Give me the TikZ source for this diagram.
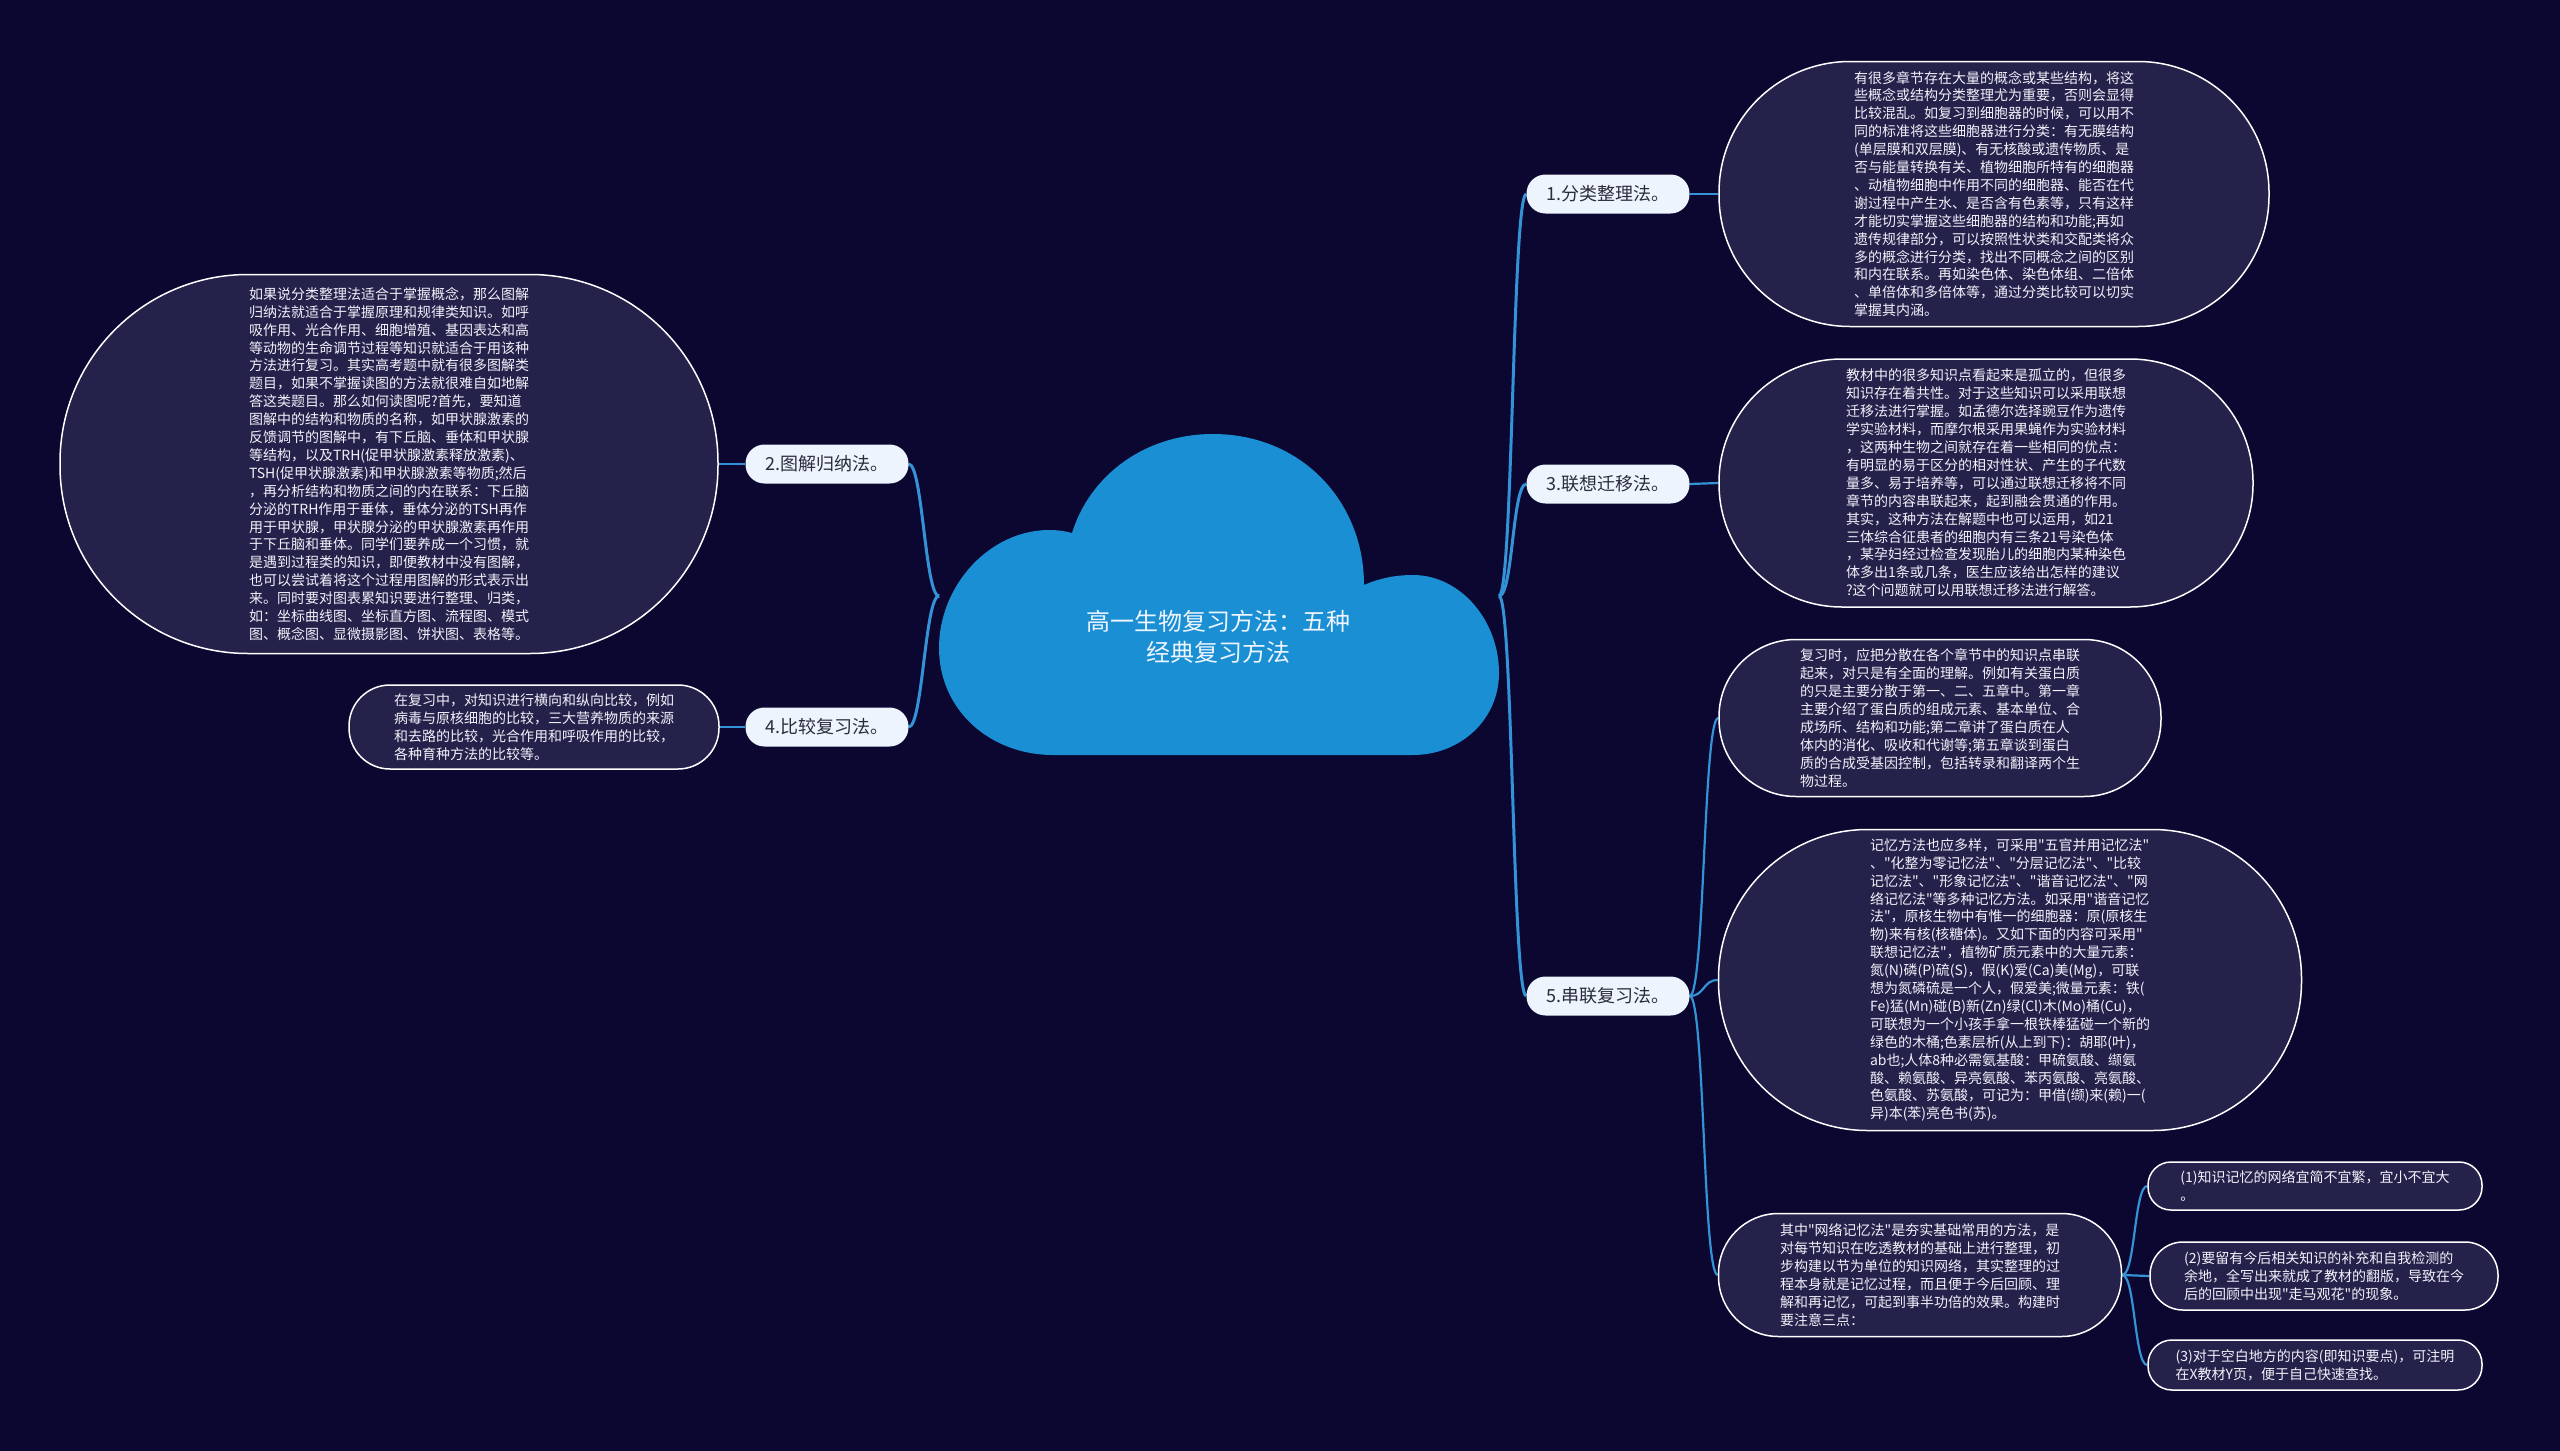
\documentclass[tikz,border=0pt]{standalone}
\usepackage{fontspec}
\setmainfont{Noto Sans CJK SC}[Ligatures=TeXOff]
\usetikzlibrary{calc}
\definecolor{bg}{HTML}{0B0730}
\definecolor{bubfill}{HTML}{24214B}
\definecolor{bubtext}{HTML}{F2F2FA}
\definecolor{pillfill}{HTML}{EDF4FE}
\definecolor{pilltext}{HTML}{2B2B3B}
\definecolor{cloudfill}{HTML}{1A8FD4}
\definecolor{cloudtext}{HTML}{EEF5FF}
\definecolor{linecol}{HTML}{3492D6}
\pgfdeclarelayer{background}
\pgfsetlayers{background,main}
\tikzset{
  bub/.style n args={3}{draw=white, line width=1.5pt, fill=bubfill, text=bubtext,
    font=\fontsize{14}{17.9}\selectfont, align=left, inner sep=0pt,
    minimum width=#1, minimum height=#2, rounded corners=#3},
  pill/.style={fill=pillfill, text=pilltext, font=\fontsize{18}{20}\selectfont,
    minimum width=163, minimum height=39, rounded corners=19, inner sep=0pt},
  mainline/.style={draw=linecol, line width=3pt},
  subline/.style={draw=linecol, line width=2.2pt},
}
\begin{document}
\begin{tikzpicture}[x=1pt,y=-1pt]
\useasboundingbox (0,0) rectangle (2560,1451);
\begin{pgfonlayer}{background}
\fill[bg] (0,0) rectangle (2560,1451);
\end{pgfonlayer}

% cloud
\fill[cloudfill] (1053,755) .. controls (990,755) and (939,710) .. (939,648)
  .. controls (939,585) and (990,530) .. (1049,530)
  .. controls (1057,530) and (1065,531) .. (1072,533)
  .. controls (1090,475) and (1145,434) .. (1213,434)
  .. controls (1300,434) and (1364,500) .. (1364,585)
  .. controls (1380,578) and (1396,575) .. (1413,575)
  .. controls (1460,575) and (1499,620) .. (1499,673)
  .. controls (1499,720) and (1460,755) .. (1413,755)
  -- cycle;
\node[text=cloudtext, font=\fontsize{24}{31}\selectfont, align=center] (root) at (1218,637) {高一生物复习方法：五种\\经典复习方法};
\coordinate (rootL) at (939,596);
\coordinate (rootR) at (1499,596);

% branch pills
\node[pill] (b1) at (1608,194) {1.分类整理法。};
\node[pill] (b3) at (1608,484) {3.联想迁移法。};
\node[pill] (b5) at (1608,996) {5.串联复习法。};
\node[pill] (b2) at (827,464) {2.图解归纳法。};
\node[pill] (b4) at (827,727) {4.比较复习法。};

% bubbles
\node[bub={550}{265}{131}] (e1) at (1994,194) {有很多章节存在大量的概念或某些结构，将这\\
些概念或结构分类整理尤为重要，否则会显得\\
比较混乱。如复习到细胞器的时候，可以用不\\
同的标准将这些细胞器进行分类：有无膜结构\\
(单层膜和双层膜)、有无核酸或遗传物质、是\\
否与能量转换有关、植物细胞所特有的细胞器\\
、动植物细胞中作用不同的细胞器、能否在代\\
谢过程中产生水、是否含有色素等，只有这样\\
才能切实掌握这些细胞器的结构和功能;再如\\
遗传规律部分，可以按照性状类和交配类将众\\
多的概念进行分类，找出不同概念之间的区别\\
和内在联系。再如染色体、染色体组、二倍体\\
、单倍体和多倍体等，通过分类比较可以切实\\
掌握其内涵。};

\node[bub={534}{248}{123}] (e3) at (1986,483) {教材中的很多知识点看起来是孤立的，但很多\\
知识存在着共性。对于这些知识可以采用联想\\
迁移法进行掌握。如孟德尔选择豌豆作为遗传\\
学实验材料，而摩尔根采用果蝇作为实验材料\\
，这两种生物之间就存在着一些相同的优点：\\
有明显的易于区分的相对性状、产生的子代数\\
量多、易于培养等，可以通过联想迁移将不同\\
章节的内容串联起来，起到融会贯通的作用。\\
其实，这种方法在解题中也可以运用，如21\\
三体综合征患者的细胞内有三条21号染色体\\
，某孕妇经过检查发现胎儿的细胞内某种染色\\
体多出1条或几条，医生应该给出怎样的建议\\
?这个问题就可以用联想迁移法进行解答。};

\node[bub={442}{157}{77}] (e5a) at (1940,718) {复习时，应把分散在各个章节中的知识点串联\\
起来，对只是有全面的理解。例如有关蛋白质\\
的只是主要分散于第一、二、五章中。第一章\\
主要介绍了蛋白质的组成元素、基本单位、合\\
成场所、结构和功能;第二章讲了蛋白质在人\\
体内的消化、吸收和代谢等;第五章谈到蛋白\\
质的合成受基因控制，包括转录和翻译两个生\\
物过程。};

\node[bub={583}{301}{149}] (e5b) at (2010,980) {记忆方法也应多样，可采用"五官并用记忆法"\\
、"化整为零记忆法"、"分层记忆法"、"比较\\
记忆法"、"形象记忆法"、"谐音记忆法"、"网\\
络记忆法"等多种记忆方法。如采用"谐音记忆\\
法"，原核生物中有惟一的细胞器：原(原核生\\
物)来有核(核糖体)。又如下面的内容可采用"\\
联想记忆法"，植物矿质元素中的大量元素：\\
氮(N)磷(P)硫(S)，假(K)爱(Ca)美(Mg)，可联\\
想为氮磷硫是一个人，假爱美;微量元素：铁(\\
Fe)猛(Mn)碰(B)新(Zn)绿(Cl)木(Mo)桶(Cu)，\\
可联想为一个小孩手拿一根铁棒猛碰一个新的\\
绿色的木桶;色素层析(从上到下)：胡耶(叶)，\\
ab也;人体8种必需氨基酸：甲硫氨酸、缬氨\\
酸、赖氨酸、异亮氨酸、苯丙氨酸、亮氨酸、\\
色氨酸、苏氨酸，可记为：甲借(缬)来(赖)一(\\
异)本(苯)亮色书(苏)。};

\node[bub={403}{123}{60}] (e5c) at (1920,1275) {其中"网络记忆法"是夯实基础常用的方法，是\\
对每节知识在吃透教材的基础上进行整理，初\\
步构建以节为单位的知识网络，其实整理的过\\
程本身就是记忆过程，而且便于今后回顾、理\\
解和再记忆，可起到事半功倍的效果。构建时\\
要注意三点：};

\node[bub={334}{48}{23}] (l1) at (2315,1186) {(1)知识记忆的网络宜简不宜繁，宜小不宜大\\。};
\node[bub={348}{68}{33}] (l2) at (2324,1276) {(2)要留有今后相关知识的补充和自我检测的\\
余地，全写出来就成了教材的翻版，导致在今\\
后的回顾中出现"走马观花"的现象。};
\node[bub={334}{50}{24}] (l3) at (2315,1365) {(3)对于空白地方的内容(即知识要点)，可注明\\
在X教材Y页，便于自己快速查找。};

\node[bub={658}{379}{188}] (e2) at (389,464) {如果说分类整理法适合于掌握概念，那么图解\\
归纳法就适合于掌握原理和规律类知识。如呼\\
吸作用、光合作用、细胞增殖、基因表达和高\\
等动物的生命调节过程等知识就适合于用该种\\
方法进行复习。其实高考题中就有很多图解类\\
题目，如果不掌握读图的方法就很难自如地解\\
答这类题目。那么如何读图呢?首先，要知道\\
图解中的结构和物质的名称，如甲状腺激素的\\
反馈调节的图解中，有下丘脑、垂体和甲状腺\\
等结构，以及TRH(促甲状腺激素释放激素)、\\
TSH(促甲状腺激素)和甲状腺激素等物质;然后\\
，再分析结构和物质之间的内在联系：下丘脑\\
分泌的TRH作用于垂体，垂体分泌的TSH再作\\
用于甲状腺，甲状腺分泌的甲状腺激素再作用\\
于下丘脑和垂体。同学们要养成一个习惯，就\\
是遇到过程类的知识，即便教材中没有图解，\\
也可以尝试着将这个过程用图解的形式表示出\\
来。同时要对图表累知识要进行整理、归类，\\
如：坐标曲线图、坐标直方图、流程图、模式\\
图、概念图、显微摄影图、饼状图、表格等。};

\node[bub={370}{84}{41}] (e4) at (534,727) {在复习中，对知识进行横向和纵向比较，例如\\
病毒与原核细胞的比较，三大营养物质的来源\\
和去路的比较，光合作用和呼吸作用的比较，\\
各种育种方法的比较等。};

% connectors
\begin{pgfonlayer}{background}
\foreach \b in {b1,b3,b5}
  \draw[mainline] (rootR) .. controls ($(rootR)+(14,0)$) and ($(\b.west)+(-14,0)$) .. (\b.west);
\foreach \b in {b2,b4}
  \draw[mainline] (rootL) .. controls ($(rootL)+(-14,0)$) and ($(\b.east)+(14,0)$) .. (\b.east);
\draw[subline] (b1.east) -- (e1.west);
\draw[subline] (b3.east) -- (e3.west);
\foreach \e in {e5a,e5b,e5c}
  \draw[subline] (b5.east) .. controls ($(b5.east)+(15,0)$) and ($(\e.west)+(-15,0)$) .. (\e.west);
\foreach \l in {l1,l2,l3}
  \draw[subline] (e5c.east) .. controls ($(e5c.east)+(13,0)$) and ($(\l.west)+(-13,0)$) .. (\l.west);
\draw[subline] (b2.west) -- (e2.east);
\draw[subline] (b4.west) -- (e4.east);
\end{pgfonlayer}
\end{tikzpicture}
\end{document}
